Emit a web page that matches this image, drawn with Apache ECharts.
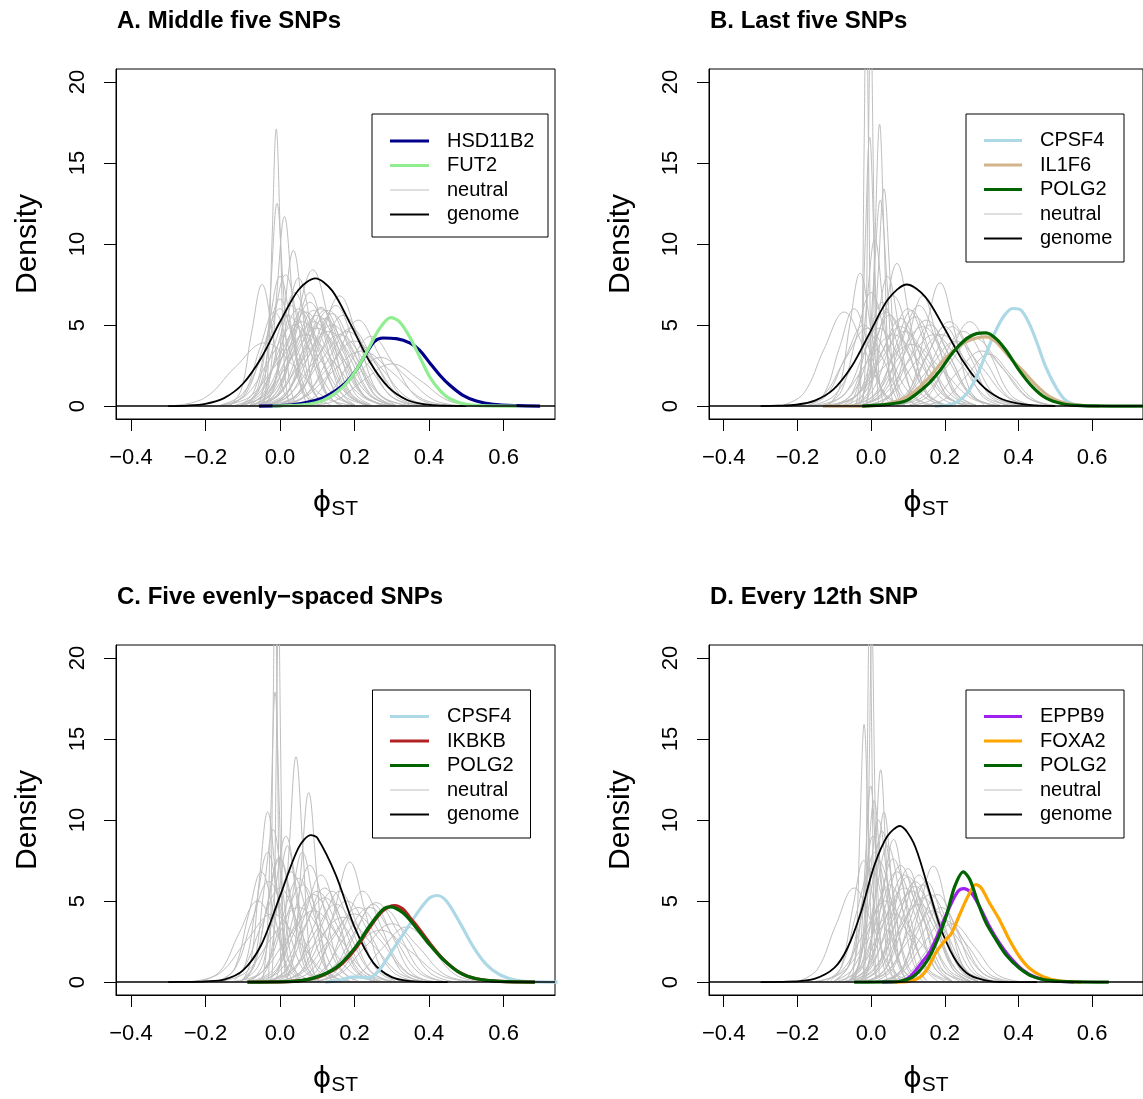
<!DOCTYPE html>
<html><head><meta charset="utf-8">
<script src="https://cdn.jsdelivr.net/npm/echarts@6/dist/echarts.min.js"></script>
<style>html,body{margin:0;padding:0;background:#fff}#c{width:1143px;height:1099px}</style>
</head><body><div id="c"></div><script>
// ---------- data ----------
const xTickValues = [-0.4, -0.2, 0, 0.2, 0.4, 0.6];
const yTickValues = [0, 5, 10, 15, 20];
const panelTitles = ['A. Middle five SNPs', 'B. Last five SNPs', 'C. Five evenly\u2212spaced SNPs', 'D. Every 12th SNP'];

// neutral curves: [x start, x step, density values on that grid]
const neutralA = [
[-0.043,0.011,0.19,2.3,10.4,17.1,10.4,2.3,0.19],
[-0.056,0.016,0.14,1.7,7.6,12.5,7.6,1.7,0.14],
[-0.048,0.02,0.13,1.6,7.1,11.7,7.1,1.6,0.13],
[-0.039,0.025,0.11,1.3,5.8,9.6,5.8,1.3,0.11],
[-0.132,0.028,0.08,1.0,4.55,7.5,4.55,1.0,0.08],
[-0.09,0.03,0.09,1.08,4.9,8.0,4.9,1.08,0.09],
[-0.09,0.035,0.09,1.1,4.9,8.1,4.9,1.1,0.09],
[-0.047,0.045,0.09,1.13,5.1,8.4,5.1,1.13,0.09],
[0.01,0.05,0.07,0.92,4.1,6.8,4.1,0.92,0.07],
[0.045,0.055,0.06,0.72,3.2,5.3,3.2,0.72,0.06],
[0.065,0.06,0.05,0.58,2.6,4.3,2.6,0.58,0.05],
[-0.28,0.08,0.04,0.53,2.4,3.9,2.4,0.53,0.04],
[-0.1,0.05,0.07,0.81,3.6,6.0,3.6,0.81,0.07],
[-0.095,0.055,0.06,0.78,3.5,5.8,3.5,0.78,0.06],
[-0.08,0.06,0.06,0.76,3.4,5.6,3.4,0.76,0.06],
[-0.06,0.06,0.06,0.73,3.3,5.4,3.3,0.73,0.06],
[-0.055,0.065,0.06,0.68,3.0,5.0,3.0,0.68,0.06],
[-0.12,0.06,0.06,0.7,3.2,5.2,3.2,0.7,0.06],
[-0.105,0.045,0.07,0.84,3.8,6.2,3.8,0.84,0.07],
[-0.07,0.05,0.07,0.86,3.9,6.4,3.9,0.86,0.07],
[-0.055,0.055,0.07,0.81,3.6,6.0,3.6,0.81,0.07],
[-0.035,0.055,0.06,0.8,3.6,5.9,3.6,0.8,0.06],
[-0.08,0.04,0.08,0.95,4.25,7.0,4.25,0.95,0.08],
[-0.03,0.07,0.05,0.62,2.8,4.6,2.8,0.62,0.05],
[0.0,0.05,0.07,0.84,3.8,6.2,3.8,0.84,0.07],
[-0.11,0.07,0.05,0.65,2.9,4.8,2.9,0.65,0.05],
[-0.105,0.035,0.07,0.89,4.0,6.6,4.0,0.89,0.07],
[-0.01,0.07,0.04,0.54,2.4,4.0,2.4,0.54,0.04],
[-0.155,0.075,0.05,0.59,2.7,4.4,2.7,0.59,0.05],
[-0.055,0.035,0.09,1.07,4.8,7.9,4.8,1.07,0.09],
[0.06,0.07,0.03,0.41,1.8,3.0,1.8,0.41,0.03],
[-0.135,0.04,0.06,0.78,3.5,5.8,3.5,0.78,0.06],
[-0.105,0.065,0.06,0.7,3.2,5.2,3.2,0.7,0.06],
[-0.01,0.06,0.06,0.76,3.4,5.6,3.4,0.76,0.06],
[-0.16,0.06,0.06,0.76,3.4,5.6,3.4,0.76,0.06],
[-0.075,0.045,0.06,0.8,3.6,5.9,3.6,0.8,0.06],
[-0.06,0.05,0.06,0.8,3.6,5.9,3.6,0.8,0.06],
[-0.08,0.07,0.05,0.62,2.8,4.6,2.8,0.62,0.05],
[-0.025,0.045,0.07,0.82,3.7,6.1,3.7,0.82,0.07],
[-0.155,0.065,0.06,0.68,3.0,5.0,3.0,0.68,0.06],
[-0.05,0.07,0.05,0.59,2.7,4.4,2.7,0.59,0.05],
[-0.02,0.08,0.04,0.46,2.1,3.4,2.1,0.46,0.04],
[-0.04,0.04,0.08,0.95,4.25,7.0,4.25,0.95,0.08],
[-0.135,0.045,0.07,0.81,3.6,6.0,3.6,0.81,0.07],
[-0.03,0.05,0.06,0.8,3.6,5.9,3.6,0.8,0.06],
[0.01,0.06,0.05,0.65,2.9,4.8,2.9,0.65,0.05],
[0.075,0.075,0.03,0.35,1.6,2.6,1.6,0.35,0.03],
[-0.025,0.055,0.06,0.77,3.5,5.7,3.5,0.77,0.06]
];
const neutralB = [
[-0.031,0.006,0.29,3.5,15.8,26,15.8,3.5,0.29],
[-0.022,0.007,0.26,3.2,14.6,24,14.6,3.2,0.26],
[-0.04,0.012,0.18,2.2,10.1,16.6,10.1,2.2,0.18],
[-0.013,0.012,0.19,2.3,10.6,17.4,10.6,2.3,0.19],
[-0.013,0.016,0.15,1.8,8.1,13.4,8.1,1.8,0.15],
[-0.029,0.018,0.14,1.7,7.7,12.7,7.7,1.7,0.14],
[-0.056,0.022,0.11,1.4,6.3,10.3,6.3,1.4,0.11],
[-0.114,0.028,0.09,1.1,5.0,8.2,5.0,1.1,0.09],
[-0.035,0.035,0.1,1.2,5.3,8.8,5.3,1.2,0.1],
[0.067,0.04,0.08,1.03,4.6,7.6,4.6,1.03,0.08],
[-0.238,0.055,0.06,0.78,3.5,5.8,3.5,0.78,0.06],
[0.103,0.055,0.06,0.7,3.2,5.2,3.2,0.7,0.06],
[0.033,0.06,0.06,0.7,3.2,5.2,3.2,0.7,0.06],
[-0.166,0.04,0.07,0.81,3.6,6.0,3.6,0.81,0.07],
[-0.1,0.06,0.05,0.66,3.0,4.9,3.0,0.66,0.05],
[-0.05,0.05,0.07,0.81,3.6,6.0,3.6,0.81,0.07],
[-0.045,0.055,0.06,0.74,3.3,5.5,3.3,0.74,0.06],
[-0.03,0.06,0.06,0.72,3.2,5.3,3.2,0.72,0.06],
[-0.1,0.05,0.06,0.76,3.4,5.6,3.4,0.76,0.06],
[-0.09,0.04,0.07,0.86,3.9,6.4,3.9,0.86,0.07],
[-0.12,0.04,0.08,0.95,4.25,7.0,4.25,0.95,0.08],
[-0.075,0.045,0.07,0.92,4.1,6.8,4.1,0.92,0.07],
[-0.02,0.05,0.07,0.84,3.8,6.2,3.8,0.84,0.07],
[-0.105,0.065,0.05,0.62,2.8,4.6,2.8,0.62,0.05],
[-0.04,0.07,0.05,0.59,2.7,4.4,2.7,0.59,0.05],
[0.02,0.07,0.04,0.54,2.4,4.0,2.4,0.54,0.04],
[-0.16,0.06,0.05,0.65,2.9,4.8,2.9,0.65,0.05],
[-0.13,0.08,0.04,0.51,2.3,3.8,2.3,0.51,0.04],
[0.105,0.065,0.04,0.46,2.1,3.4,2.1,0.46,0.04],
[-0.17,0.05,0.06,0.68,3.0,5.0,3.0,0.68,0.06],
[-0.045,0.03,0.09,1.08,4.9,8.0,4.9,1.08,0.09],
[0.05,0.05,0.05,0.66,3.0,4.9,3.0,0.66,0.05],
[0.02,0.04,0.07,0.92,4.1,6.8,4.1,0.92,0.07],
[-0.07,0.05,0.06,0.73,3.3,5.4,3.3,0.73,0.06],
[-0.005,0.055,0.06,0.68,3.0,5.0,3.0,0.68,0.06],
[0.07,0.06,0.05,0.62,2.8,4.6,2.8,0.62,0.05],
[0.07,0.07,0.05,0.57,2.55,4.2,2.55,0.57,0.05],
[-0.125,0.055,0.06,0.78,3.5,5.8,3.5,0.78,0.06],
[-0.025,0.045,0.06,0.8,3.6,5.9,3.6,0.8,0.06],
[-0.02,0.07,0.05,0.59,2.7,4.4,2.7,0.59,0.05],
[-0.19,0.06,0.05,0.65,2.9,4.8,2.9,0.65,0.05],
[0.14,0.06,0.04,0.43,1.9,3.2,1.9,0.43,0.04],
[-0.15,0.07,0.05,0.59,2.7,4.4,2.7,0.59,0.05],
[0.07,0.05,0.05,0.66,3.0,4.9,3.0,0.66,0.05],
[-0.055,0.065,0.05,0.66,3.0,4.9,3.0,0.66,0.05]
];
const neutralC = [
[-0.031,0.006,0.28,3.4,15.2,25,15.2,3.4,0.28],
[-0.022,0.006,0.25,3.1,14.0,23,14.0,3.1,0.25],
[-0.046,0.011,0.2,2.4,10.9,17.9,10.9,2.4,0.2],
[-0.011,0.018,0.15,1.9,8.4,13.9,8.4,1.9,0.15],
[0.017,0.02,0.13,1.6,7.1,11.7,7.1,1.6,0.13],
[-0.099,0.022,0.12,1.4,6.4,10.5,6.4,1.4,0.12],
[-0.093,0.025,0.1,1.27,5.7,9.4,5.7,1.27,0.1],
[-0.074,0.03,0.1,1.2,5.5,9.0,5.5,1.2,0.1],
[-0.123,0.03,0.09,1.08,4.9,8.0,4.9,1.08,0.09],
[-0.101,0.033,0.08,1.04,4.7,7.7,4.7,1.04,0.08],
[0.067,0.04,0.08,1.0,4.5,7.4,4.5,1.0,0.08],
[0.078,0.06,0.05,0.66,3.0,4.9,3.0,0.66,0.05],
[0.072,0.05,0.06,0.76,3.4,5.6,3.4,0.76,0.06],
[-0.21,0.05,0.06,0.68,3.0,5.0,3.0,0.68,0.06],
[-0.105,0.045,0.07,0.92,4.1,6.8,4.1,0.92,0.07],
[-0.09,0.05,0.07,0.81,3.6,6.0,3.6,0.81,0.07],
[-0.065,0.055,0.06,0.76,3.4,5.6,3.4,0.76,0.06],
[-0.06,0.06,0.06,0.7,3.2,5.2,3.2,0.7,0.06],
[-0.03,0.06,0.05,0.65,2.9,4.8,2.9,0.65,0.05],
[-0.15,0.05,0.06,0.78,3.5,5.8,3.5,0.78,0.06],
[-0.04,0.04,0.08,0.97,4.4,7.2,4.4,0.97,0.08],
[-0.01,0.05,0.06,0.76,3.4,5.6,3.4,0.76,0.06],
[-0.01,0.07,0.05,0.57,2.55,4.2,2.55,0.57,0.05],
[0.09,0.07,0.04,0.49,2.2,3.6,2.2,0.49,0.04],
[-0.16,0.07,0.05,0.62,2.8,4.6,2.8,0.62,0.05],
[-0.23,0.07,0.05,0.57,2.55,4.2,2.55,0.57,0.05],
[-0.055,0.075,0.04,0.54,2.4,4.0,2.4,0.54,0.04],
[0.03,0.08,0.04,0.43,1.9,3.2,1.9,0.43,0.04],
[-0.025,0.045,0.07,0.89,4.0,6.6,4.0,0.89,0.07],
[-0.155,0.035,0.07,0.92,4.1,6.8,4.1,0.92,0.07],
[-0.055,0.025,0.09,1.13,5.1,8.4,5.1,1.13,0.09],
[0.045,0.065,0.05,0.62,2.8,4.6,2.8,0.62,0.05],
[-0.12,0.07,0.05,0.59,2.7,4.4,2.7,0.59,0.05],
[-0.085,0.045,0.07,0.86,3.9,6.4,3.9,0.86,0.07],
[-0.03,0.05,0.06,0.78,3.5,5.8,3.5,0.78,0.06],
[0.0,0.06,0.06,0.68,3.0,5.0,3.0,0.68,0.06],
[0.1,0.06,0.05,0.61,2.7,4.5,2.7,0.61,0.05],
[0.145,0.065,0.04,0.46,2.1,3.4,2.1,0.46,0.04],
[-0.105,0.035,0.08,1.03,4.6,7.6,4.6,1.03,0.08],
[-0.075,0.055,0.06,0.73,3.3,5.4,3.3,0.73,0.06],
[0.01,0.05,0.06,0.76,3.4,5.6,3.4,0.76,0.06],
[0.015,0.065,0.05,0.62,2.8,4.6,2.8,0.62,0.05],
[-0.165,0.045,0.07,0.84,3.8,6.2,3.8,0.84,0.07],
[-0.03,0.03,0.09,1.08,4.9,8.0,4.9,1.08,0.09],
[0.1,0.05,0.05,0.65,2.9,4.8,2.9,0.65,0.05]
];
const neutralD = [
[-0.022,0.006,0.26,3.2,14.6,24,14.6,3.2,0.26],
[-0.019,0.007,0.24,3.0,13.4,22,13.4,3.0,0.24],
[-0.052,0.011,0.17,2.1,9.7,15.9,9.7,2.1,0.17],
[-0.016,0.014,0.14,1.8,8.0,13.1,8.0,1.8,0.14],
[-0.046,0.015,0.13,1.6,7.3,12.1,7.3,1.6,0.13],
[-0.046,0.018,0.12,1.5,6.8,11.2,6.8,1.5,0.12],
[-0.196,0.05,0.06,0.78,3.5,5.8,3.5,0.78,0.06],
[0.049,0.04,0.08,0.97,4.3,7.15,4.3,0.97,0.08],
[-0.029,0.03,0.1,1.2,5.3,8.8,5.3,1.2,0.1],
[-0.055,0.025,0.11,1.35,6.1,10.0,6.1,1.35,0.11],
[-0.06,0.03,0.1,1.26,5.6,9.3,5.6,1.26,0.1],
[-0.095,0.035,0.09,1.08,4.9,8.0,4.9,1.08,0.09],
[-0.06,0.035,0.09,1.13,5.1,8.4,5.1,1.13,0.09],
[-0.055,0.045,0.08,0.97,4.4,7.2,4.4,0.97,0.08],
[-0.05,0.05,0.07,0.88,3.95,6.5,3.95,0.88,0.07],
[-0.03,0.05,0.07,0.84,3.8,6.2,3.8,0.84,0.07],
[-0.01,0.05,0.07,0.81,3.6,6.0,3.6,0.81,0.07],
[-0.08,0.05,0.07,0.92,4.1,6.8,4.1,0.92,0.07],
[-0.005,0.055,0.06,0.73,3.3,5.4,3.3,0.73,0.06],
[-0.1,0.05,0.07,0.81,3.6,6.0,3.6,0.81,0.07],
[-0.12,0.04,0.08,0.95,4.25,7.0,4.25,0.95,0.08],
[-0.07,0.06,0.06,0.76,3.4,5.6,3.4,0.76,0.06],
[0.025,0.055,0.05,0.62,2.8,4.6,2.8,0.62,0.05],
[-0.065,0.065,0.05,0.65,2.9,4.8,2.9,0.65,0.05],
[-0.14,0.06,0.06,0.68,3.0,5.0,3.0,0.68,0.06],
[-0.09,0.06,0.06,0.78,3.5,5.8,3.5,0.78,0.06],
[0.02,0.06,0.04,0.51,2.3,3.8,2.3,0.51,0.04],
[-0.11,0.03,0.08,1.0,4.55,7.5,4.55,1.0,0.08],
[-0.15,0.07,0.05,0.57,2.55,4.2,2.55,0.57,0.05],
[-0.005,0.045,0.07,0.89,4.0,6.6,4.0,0.89,0.07],
[-0.1,0.04,0.08,1.0,4.55,7.5,4.55,1.0,0.08],
[-0.02,0.04,0.08,0.95,4.25,7.0,4.25,0.95,0.08],
[0.015,0.045,0.07,0.84,3.8,6.2,3.8,0.84,0.07],
[0.03,0.05,0.06,0.73,3.3,5.4,3.3,0.73,0.06],
[-0.06,0.04,0.08,1.03,4.6,7.6,4.6,1.03,0.08],
[-0.045,0.055,0.06,0.8,3.6,5.9,3.6,0.8,0.06],
[0.04,0.06,0.04,0.49,2.2,3.6,2.2,0.49,0.04],
[-0.06,0.05,0.07,0.89,4.0,6.6,4.0,0.89,0.07],
[-0.025,0.02,0.12,1.4,6.4,10.5,6.4,1.4,0.12],
[-0.04,0.06,0.06,0.7,3.2,5.2,3.2,0.7,0.06],
[-0.07,0.025,0.1,1.2,5.5,9.0,5.5,1.2,0.1],
[-0.025,0.065,0.05,0.59,2.7,4.4,2.7,0.59,0.05]
];

const genomeA = [[-0.3,0],[-0.25,0.03],[-0.2,0.14],[-0.15,0.49],[-0.1,1.36],[-0.05,2.98],[0.0,5.19],[0.05,7.18],[0.095,7.88],[0.14,7.12],[0.19,5.02],[0.24,2.76],[0.29,1.18],[0.34,0.39],[0.39,0.1],[0.44,0.02],[0.5,0]];
const hsd11b2A = [[-0.056,0],[0.0,0.02],[0.052,0.14],[0.115,0.5],[0.169,1.28],[0.204,2.2],[0.231,3.24],[0.254,4.0],[0.276,4.2],[0.312,4.16],[0.348,3.9],[0.375,3.44],[0.402,2.66],[0.429,1.9],[0.456,1.28],[0.491,0.66],[0.527,0.31],[0.572,0.1],[0.635,0.02],[0.698,0]];
const fut2A = [[-0.02,0],[0.061,0.08],[0.115,0.35],[0.169,1.18],[0.204,2.2],[0.24,3.65],[0.267,4.78],[0.297,5.46],[0.321,5.2],[0.348,4.27],[0.375,3.03],[0.402,1.79],[0.429,0.97],[0.456,0.45],[0.5,0.1],[0.56,0.01],[0.635,0]];

const genomeB = [[-0.3,0],[-0.253,0.02],[-0.203,0.08],[-0.153,0.33],[-0.103,1.01],[-0.053,2.44],[-0.003,4.55],[0.047,6.62],[0.097,7.5],[0.147,6.74],[0.197,4.88],[0.247,2.86],[0.297,1.35],[0.347,0.51],[0.397,0.16],[0.447,0.04],[0.5,0]];
const cpsf4B = [[0.173,0],[0.223,0.14],[0.259,0.76],[0.286,1.8],[0.312,3.24],[0.339,4.68],[0.362,5.6],[0.384,6.02],[0.407,5.92],[0.429,5.1],[0.451,3.86],[0.474,2.41],[0.501,1.18],[0.528,0.35],[0.564,0.04],[0.617,0]];
const il1f6B = [[-0.131,0],[-0.024,0],[0.044,0.14],[0.097,0.56],[0.151,1.6],[0.205,3.03],[0.25,3.86],[0.286,4.2],[0.312,4.27],[0.339,3.96],[0.375,3.03],[0.411,2.2],[0.447,1.3],[0.483,0.6],[0.528,0.17],[0.58,0.03],[0.62,0]];
const polg2B = [[-0.024,0],[0.044,0.1],[0.097,0.35],[0.151,1.28],[0.187,2.2],[0.223,3.34],[0.259,4.16],[0.286,4.47],[0.312,4.52],[0.339,4.16],[0.366,3.44],[0.402,2.2],[0.438,1.18],[0.474,0.5],[0.519,0.14],[0.573,0.02],[0.65,0],[0.74,0]];

const genomeC = [[-0.3,0],[-0.25,0.01],[-0.2,0.04],[-0.15,0.15],[-0.1,0.7],[-0.05,2.3],[0.0,5.3],[0.05,8.3],[0.083,9.07],[0.1,8.9],[0.15,6.6],[0.2,3.4],[0.25,1.2],[0.3,0.3],[0.35,0.05],[0.4,0],[0.45,0]];
const cpsf4C = [[0.122,0],[0.16,0.1],[0.19,0.3],[0.215,0.3],[0.24,0.25],[0.267,0.76],[0.303,2.0],[0.339,3.24],[0.375,4.47],[0.402,5.2],[0.422,5.34],[0.447,4.99],[0.483,3.65],[0.518,2.2],[0.554,1.07],[0.59,0.45],[0.635,0.1],[0.689,0.01],[0.745,0]];
const ikbkbC = [[-0.087,0],[0.0,0.01],[0.061,0.1],[0.115,0.42],[0.16,1.0],[0.204,2.1],[0.24,3.35],[0.276,4.4],[0.308,4.72],[0.33,4.5],[0.348,4.0],[0.366,3.5],[0.402,2.4],[0.438,1.42],[0.483,0.58],[0.527,0.2],[0.59,0.04],[0.684,0]];
const polg2C = [[-0.087,0],[0.0,0.01],[0.061,0.1],[0.115,0.45],[0.16,1.07],[0.204,2.2],[0.24,3.44],[0.276,4.47],[0.296,4.64],[0.33,4.27],[0.366,3.34],[0.402,2.3],[0.438,1.38],[0.483,0.56],[0.527,0.2],[0.59,0.04],[0.684,0]];

const genomeD = [[-0.3,0],[-0.226,0.02],[-0.154,0.2],[-0.1,0.87],[-0.064,2.1],[-0.028,4.27],[0.008,7.15],[0.044,9.0],[0.078,9.63],[0.115,8.6],[0.151,6.12],[0.187,3.44],[0.223,1.59],[0.259,0.56],[0.304,0.14],[0.366,0],[0.45,0]];
const eppb9D = [[0.03,0],[0.079,0.04],[0.106,0.35],[0.133,1.07],[0.16,1.9],[0.187,3.24],[0.214,4.68],[0.236,5.6],[0.251,5.77],[0.272,5.5],[0.294,4.68],[0.321,3.44],[0.348,2.41],[0.375,1.59],[0.411,0.76],[0.447,0.29],[0.492,0.08],[0.55,0]];
const foxa2D = [[0.06,0],[0.097,0.02],[0.13,0.25],[0.151,0.76],[0.178,1.9],[0.2,2.55],[0.218,3.0],[0.241,4.2],[0.263,5.3],[0.284,6.02],[0.299,5.8],[0.321,4.89],[0.348,3.86],[0.375,2.62],[0.402,1.59],[0.429,0.87],[0.465,0.35],[0.51,0.08],[0.57,0]];
const polg2D = [[-0.046,0],[0.05,0.01],[0.079,0.05],[0.115,0.35],[0.151,1.28],[0.178,2.5],[0.205,4.16],[0.227,5.9],[0.25,6.8],[0.268,6.33],[0.29,4.89],[0.312,3.65],[0.339,2.62],[0.366,1.69],[0.402,0.87],[0.438,0.35],[0.483,0.1],[0.55,0.01],[0.645,0]];

// ---------- chart ----------
const FONT = 'Liberation Sans, Arial, Helvetica, sans-serif';
const GRAY = '#BEBEBE';
const panels = [
  {title: panelTitles[0], neutral: neutralA, genome: genomeA, genes: [
    {name: 'HSD11B2', color: '#00008B', data: hsd11b2A}, {name: 'FUT2', color: '#90EE90', data: fut2A}]},
  {title: panelTitles[1], neutral: neutralB, genome: genomeB, genes: [
    {name: 'CPSF4', color: '#ADD8E6', data: cpsf4B}, {name: 'IL1F6', color: '#D2B48C', data: il1f6B}, {name: 'POLG2', color: '#006400', data: polg2B}]},
  {title: panelTitles[2], neutral: neutralC, genome: genomeC, genes: [
    {name: 'CPSF4', color: '#ADD8E6', data: cpsf4C}, {name: 'IKBKB', color: '#B22222', data: ikbkbC}, {name: 'POLG2', color: '#006400', data: polg2C}]},
  {title: panelTitles[3], neutral: neutralD, genome: genomeD, genes: [
    {name: 'EPPB9', color: '#A020F0', data: eppb9D}, {name: 'FOXA2', color: '#FFA500', data: foxa2D}, {name: 'POLG2', color: '#006400', data: polg2D}]}
];
const layout = [
  {left: 116, top: 69, lg: {x: 372, y: 114, w: 176, h: 123, l1: 390, l2: 429, tx: 447, ry: 141}},
  {left: 709, top: 69, lg: {x: 966, y: 114, w: 158, h: 148, l1: 984, l2: 1022, tx: 1040, ry: 140.5}},
  {left: 116, top: 645, lg: {x: 372.5, y: 690, w: 158, h: 148, l1: 390, l2: 429, tx: 447, ry: 716.5}},
  {left: 709, top: 645, lg: {x: 966, y: 690, w: 158, h: 148, l1: 984, l2: 1022, tx: 1040, ry: 716.5}}
];
const GW = 439, GH = 350;

function curve(row) {
  const x0 = row[0], dx = row[1];
  return row.slice(2).map((y, i) => [+(x0 + i * dx).toFixed(5), y]);
}
const fmtX = v => (v < 0 ? '\u2212' : '') + Math.abs(v).toFixed(1);

const grid = [], xAxis = [], yAxis = [], title = [], series = [], graphic = [];
panels.forEach((p, i) => {
  const L = layout[i];
  grid.push({left: L.left, top: L.top, width: GW, height: GH, show: true, borderColor: '#000', borderWidth: 1, backgroundColor: 'transparent'});
  title.push({text: p.title, left: L.left - 4, top: L.top - 65,
    textStyle: {fontFamily: FONT, fontSize: 24, fontWeight: 'bold', color: '#000'}});
  xAxis.push({type: 'value', gridIndex: i, min: -0.44, max: 0.738,
    axisLine: {show: true, onZero: false, lineStyle: {color: '#000', width: 1}},
    splitLine: {show: false},
    axisTick: {show: true, length: 12, customValues: xTickValues, lineStyle: {color: '#000', width: 1}},
    axisLabel: {customValues: xTickValues, formatter: fmtX, fontFamily: FONT, fontSize: 22, color: '#000', margin: 28},
    name: '{p|\u03D5}{s|ST}', nameLocation: 'middle', nameGap: 68,
    nameTextStyle: {color: '#000', rich: {
      p: {fontFamily: 'DejaVu Sans', fontSize: 28, color: '#000'},
      s: {fontFamily: FONT, fontSize: 21, color: '#000', padding: [12, 0, 0, 0]}}}
  });
  yAxis.push({type: 'value', gridIndex: i, min: -0.8, max: 20.8,
    axisLine: {show: true, onZero: false, lineStyle: {color: '#000', width: 1}},
    splitLine: {show: false},
    axisTick: {show: true, length: 12, customValues: yTickValues, lineStyle: {color: '#000', width: 1}},
    axisLabel: {customValues: yTickValues, rotate: 90, fontFamily: FONT, fontSize: 22, color: '#000', margin: 27},
    name: 'Density', nameLocation: 'middle', nameGap: 73,
    nameTextStyle: {fontFamily: FONT, fontSize: 30, color: '#000'}
  });
  p.neutral.forEach(row => series.push({type: 'line', xAxisIndex: i, yAxisIndex: i, data: curve(row),
    smooth: 0.4, symbol: 'none', silent: true, lineStyle: {color: GRAY, width: 1}, z: 2}));
  series.push({type: 'line', xAxisIndex: i, yAxisIndex: i, data: p.genome, smooth: 0.3, symbol: 'none', silent: true,
    lineStyle: {color: '#000', width: 1.8}, z: 3,
    markLine: {silent: true, symbol: ['none', 'none'], label: {show: false}, animation: false,
      lineStyle: {color: '#000', width: 1.5, type: 'solid'}, emphasis: {disabled: true}, data: [{yAxis: 0}]}});
  p.genes.forEach(g => series.push({type: 'line', xAxisIndex: i, yAxisIndex: i, data: g.data, smooth: 0.3,
    symbol: 'none', silent: true, lineStyle: {color: g.color, width: 3.2}, z: 4}));

  // legend box
  const lg = L.lg;
  const entries = p.genes.map(g => ({name: g.name, color: g.color, w: 3.2}))
    .concat([{name: 'neutral', color: GRAY, w: 1}, {name: 'genome', color: '#000', w: 1.8}]);
  graphic.push({type: 'rect', shape: {x: lg.x, y: lg.y, width: lg.w, height: lg.h},
    style: {fill: '#fff', stroke: '#000', lineWidth: 1}, z: 10});
  entries.forEach((e, k) => {
    const yy = lg.ry + k * 24.5;
    graphic.push({type: 'line', shape: {x1: lg.l1, y1: yy, x2: lg.l2, y2: yy},
      style: {stroke: e.color, lineWidth: e.w}, z: 11});
    graphic.push({type: 'text', x: lg.tx, y: yy, z: 11,
      style: {text: e.name, fill: '#000', font: '20px ' + FONT, verticalAlign: 'middle', align: 'left'}});
  });
});

const chart = echarts.init(document.getElementById('c'), null, {renderer: 'canvas'});
chart.setOption({animation: false, backgroundColor: '#fff', title, grid, xAxis, yAxis, series, graphic});
</script></body></html>
